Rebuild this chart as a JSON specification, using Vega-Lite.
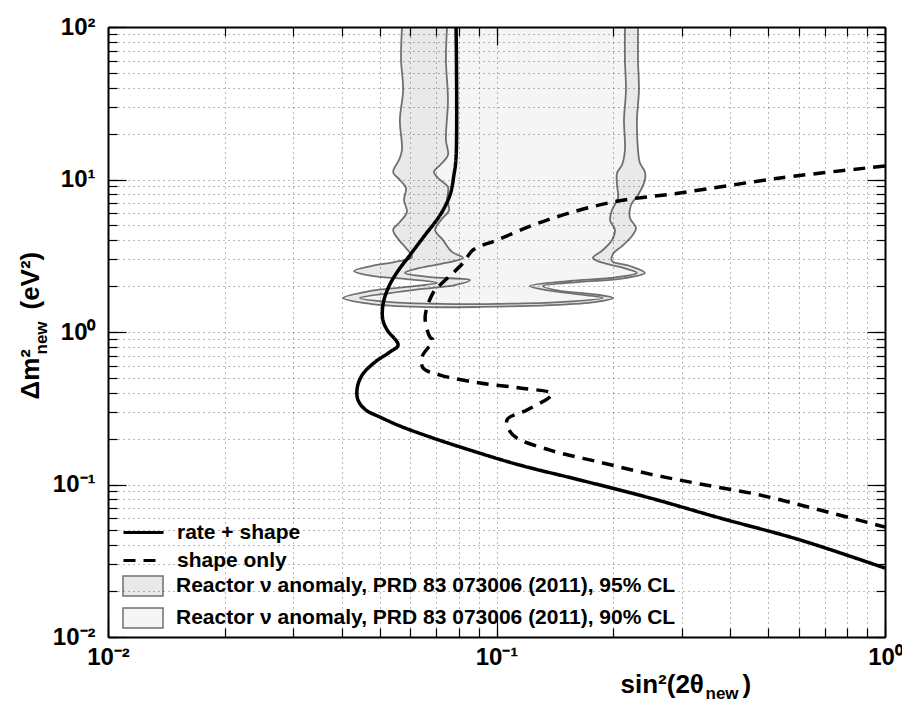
{
  "$schema": "https://vega.github.io/schema/vega-lite/v6.json",
  "width": 777,
  "height": 610,
  "autosize": {"type": "none"},
  "padding": {"left": 108, "top": 27, "right": 17, "bottom": 64},
  "background": "white",
  "config": {"view": {"stroke": null}, "font": "Liberation Sans"},
  "datasets": {
    "cl95": [
      {"i":0,"x":0.0571,"y":100},{"i":1,"x":0.0568,"y":60.76},{"i":2,"x":0.0575,"y":38.63},{"i":3,"x":0.0564,"y":24.56},
      {"i":4,"x":0.0571,"y":15.61},{"i":5,"x":0.0561,"y":13.43},{"i":6,"x":0.0542,"y":11.20},{"i":7,"x":0.0564,"y":9.93},
      {"i":8,"x":0.0585,"y":8.80},{"i":9,"x":0.0578,"y":7.34},{"i":10,"x":0.0588,"y":6.12},{"i":11,"x":0.0564,"y":5.26},
      {"i":12,"x":0.0542,"y":4.67},{"i":13,"x":0.0561,"y":4.01},{"i":14,"x":0.0585,"y":3.55},{"i":15,"x":0.0606,"y":3.10},
      {"i":16,"x":0.0548,"y":2.88},{"i":17,"x":0.0478,"y":2.71},{"i":18,"x":0.0430,"y":2.51},{"i":19,"x":0.0478,"y":2.33},
      {"i":20,"x":0.0581,"y":2.23},{"i":21,"x":0.0703,"y":2.10},{"i":22,"x":0.0581,"y":1.97},{"i":23,"x":0.0473,"y":1.86},
      {"i":24,"x":0.0403,"y":1.67},{"i":25,"x":0.0473,"y":1.53},{"i":26,"x":0.0635,"y":1.46},{"i":27,"x":0.0907,"y":1.46},
      {"i":28,"x":0.1373,"y":1.50},{"i":29,"x":0.1792,"y":1.57},{"i":30,"x":0.1995,"y":1.67},{"i":31,"x":0.1740,"y":1.78},
      {"i":32,"x":0.1457,"y":1.86},{"i":33,"x":0.1317,"y":2.00},{"i":34,"x":0.1640,"y":2.13},{"i":35,"x":0.2079,"y":2.23},
      {"i":36,"x":0.2410,"y":2.44},{"i":37,"x":0.2206,"y":2.71},{"i":38,"x":0.1983,"y":2.92},{"i":39,"x":0.1995,"y":3.25},
      {"i":40,"x":0.2104,"y":3.66},{"i":41,"x":0.2232,"y":4.26},{"i":42,"x":0.2286,"y":4.81},{"i":43,"x":0.2206,"y":5.59},
      {"i":44,"x":0.2219,"y":6.81},{"i":45,"x":0.2313,"y":7.91},{"i":46,"x":0.2410,"y":9.93},{"i":47,"x":0.2410,"y":11.20},
      {"i":48,"x":0.2340,"y":12.83},{"i":49,"x":0.2313,"y":15.61},{"i":50,"x":0.2299,"y":24.56},{"i":51,"x":0.2326,"y":38.63},
      {"i":52,"x":0.2313,"y":60.76},{"i":53,"x":0.2313,"y":100}
    ],
    "cl90": [
      {"i":0,"x":0.0746,"y":100},{"i":1,"x":0.0741,"y":60.76},{"i":2,"x":0.0750,"y":33.22},{"i":3,"x":0.0741,"y":18.16},
      {"i":4,"x":0.0750,"y":14.48},{"i":5,"x":0.0716,"y":12.45},{"i":6,"x":0.0690,"y":11.20},{"i":7,"x":0.0716,"y":9.93},
      {"i":8,"x":0.0750,"y":8.93},{"i":9,"x":0.0746,"y":7.34},{"i":10,"x":0.0755,"y":6.31},{"i":11,"x":0.0720,"y":5.42},
      {"i":12,"x":0.0695,"y":4.67},{"i":13,"x":0.0728,"y":4.01},{"i":14,"x":0.0768,"y":3.35},{"i":15,"x":0.0820,"y":3.06},
      {"i":16,"x":0.0716,"y":2.79},{"i":17,"x":0.0635,"y":2.63},{"i":18,"x":0.0581,"y":2.44},{"i":19,"x":0.0674,"y":2.29},
      {"i":20,"x":0.0855,"y":2.19},{"i":21,"x":0.0782,"y":2.03},{"i":22,"x":0.0635,"y":1.91},{"i":23,"x":0.0532,"y":1.80},
      {"i":24,"x":0.0445,"y":1.67},{"i":25,"x":0.0532,"y":1.57},{"i":26,"x":0.0716,"y":1.53},{"i":27,"x":0.1021,"y":1.53},
      {"i":28,"x":0.1457,"y":1.57},{"i":29,"x":0.1879,"y":1.67},{"i":30,"x":0.1592,"y":1.78},{"i":31,"x":0.1333,"y":1.89},
      {"i":32,"x":0.1220,"y":2.00},{"i":33,"x":0.1546,"y":2.16},{"i":34,"x":0.1960,"y":2.26},{"i":35,"x":0.2299,"y":2.44},
      {"i":36,"x":0.2079,"y":2.67},{"i":37,"x":0.1846,"y":2.88},{"i":38,"x":0.1771,"y":3.06},{"i":39,"x":0.1879,"y":3.45},
      {"i":40,"x":0.1983,"y":4.01},{"i":41,"x":0.2018,"y":4.67},{"i":42,"x":0.1960,"y":5.42},{"i":43,"x":0.1983,"y":6.31},
      {"i":44,"x":0.2055,"y":7.56},{"i":45,"x":0.2043,"y":9.20},{"i":46,"x":0.2043,"y":11.03},{"i":47,"x":0.2104,"y":12.45},
      {"i":48,"x":0.2141,"y":15.61},{"i":49,"x":0.2129,"y":24.56},{"i":50,"x":0.2154,"y":38.63},{"i":51,"x":0.2141,"y":60.76},
      {"i":52,"x":0.2141,"y":100}
    ],
    "rs": [
      {"i":0,"x":0.0787,"y":100},{"i":1,"x":0.0787,"y":14.05},{"i":2,"x":0.0777,"y":10.70},{"i":3,"x":0.0759,"y":7.91},
      {"i":4,"x":0.0716,"y":5.85},{"i":5,"x":0.0655,"y":4.33},{"i":6,"x":0.0599,"y":3.20},{"i":7,"x":0.0555,"y":2.47},
      {"i":8,"x":0.0526,"y":1.94},{"i":9,"x":0.0510,"y":1.50},{"i":10,"x":0.0510,"y":1.199},{"i":11,"x":0.0523,"y":1.031},
      {"i":12,"x":0.0558,"y":0.822},{"i":13,"x":0.0532,"y":0.740},{"i":14,"x":0.0487,"y":0.636},{"i":15,"x":0.0451,"y":0.522},
      {"i":16,"x":0.0438,"y":0.429},{"i":17,"x":0.0440,"y":0.358},{"i":18,"x":0.0461,"y":0.308},{"i":19,"x":0.0501,"y":0.277},
      {"i":20,"x":0.0564,"y":0.242},{"i":21,"x":0.0674,"y":0.205},{"i":22,"x":0.0855,"y":0.168},{"i":23,"x":0.1149,"y":0.134},
      {"i":24,"x":0.1640,"y":0.107},{"i":25,"x":0.2483,"y":0.0816},{"i":26,"x":0.376,"y":0.0603},{"i":27,"x":0.6042,"y":0.0433},
      {"i":28,"x":1.0,"y":0.0283}
    ],
    "so": [
      {"i":0,"x":1.0,"y":12.26},{"i":1,"x":0.5366,"y":10.23},{"i":2,"x":0.2967,"y":8.16},{"i":3,"x":0.1995,"y":7.12},
      {"i":4,"x":0.1349,"y":5.42},{"i":5,"x":0.1003,"y":4.01},{"i":6,"x":0.0870,"y":3.45},{"i":7,"x":0.0820,"y":2.83},
      {"i":8,"x":0.0707,"y":1.97},{"i":9,"x":0.0686,"y":1.80},{"i":10,"x":0.0655,"y":1.254},{"i":11,"x":0.0674,"y":0.927},
      {"i":12,"x":0.0686,"y":0.886},{"i":13,"x":0.0643,"y":0.686},{"i":14,"x":0.0647,"y":0.581},{"i":15,"x":0.0716,"y":0.522},
      {"i":16,"x":0.0907,"y":0.463},{"i":17,"x":0.1149,"y":0.429},{"i":18,"x":0.1389,"y":0.392},{"i":19,"x":0.1198,"y":0.308},
      {"i":20,"x":0.1064,"y":0.265},{"i":21,"x":0.1103,"y":0.211},{"i":22,"x":0.1373,"y":0.168},{"i":23,"x":0.1846,"y":0.140},
      {"i":24,"x":0.2483,"y":0.117},{"i":25,"x":0.3342,"y":0.1008},{"i":26,"x":0.477,"y":0.0853},{"i":27,"x":0.680,"y":0.0680},
      {"i":28,"x":1.0,"y":0.0526}
    ]
  },
  "resolve": {"axis": {"x": "independent", "y": "independent"}},
  "layer": [
    {
      "data": {"name": "cl95"},
      "mark": {"type": "line", "filled": true, "stroke": "#707070", "strokeWidth": 1.8, "clip": true, "interpolate": "catmull-rom"},
      "encoding": {
        "x": {"field": "x", "type": "quantitative",
          "scale": {"type": "log", "domain": [0.01, 1], "nice": false},
          "axis": {"orient": "bottom", "zindex": 1, "values": [0.01, 0.1, 1],
            "labelExpr": "datum.value==0.01?'10⁻²':datum.value==0.1?'10⁻¹':'10⁰'",
            "labelFont": "Liberation Sans", "labelFontWeight": "bold", "labelFontSize": 24, "labelColor": "#000",
            "labelPadding": 26, "labelFlush": false, "labelOverlap": false, "labelBound": false,
            "tickSize": -18, "tickColor": "#000", "tickWidth": 1.2,
            "domain": true, "domainColor": "#000", "domainWidth": 2, "grid": false,
            "title": "sin²(2θ", "titleFont": "Liberation Sans", "titleFontWeight": "bold", "titleFontSize": 26,
            "titleColor": "#000", "titleAlign": "left", "titleBaseline": "alphabetic", "titleX": 512, "titleY": 55}
        },
        "y": {"field": "y", "type": "quantitative",
          "scale": {"type": "log", "domain": [0.01, 100], "nice": false},
          "axis": {"orient": "left", "zindex": 1, "values": [0.01, 0.1, 1, 10, 100],
            "labelExpr": "datum.value==0.01?'10⁻²':datum.value==0.1?'10⁻¹':datum.value==1?'10⁰':datum.value==10?'10¹':'10²'",
            "labelFont": "Liberation Sans", "labelFontWeight": "bold", "labelFontSize": 24, "labelColor": "#000",
            "labelPadding": 31, "labelFlush": false, "labelOverlap": false, "labelBound": false,
            "tickSize": -18, "tickColor": "#000", "tickWidth": 1.2,
            "domain": true, "domainColor": "#000", "domainWidth": 2, "grid": false,
            "title": "Δm²", "titleFont": "Liberation Sans", "titleFontWeight": "bold", "titleFontSize": 26,
            "titleColor": "#000", "titleAlign": "left", "titleBaseline": "alphabetic", "titleAngle": -90, "titleX": -70, "titleY": 372}
        },
        "order": {"field": "i"},
        "fill": {"datum": "Reactor ν anomaly, PRD 83 073006 (2011), 95% CL",
          "scale": {"domain": ["Reactor ν anomaly, PRD 83 073006 (2011), 95% CL", "Reactor ν anomaly, PRD 83 073006 (2011), 90% CL"],
                    "range": ["#e9e9e9", "#f5f5f5"]},
          "legend": {"orient": "none", "legendX": 24, "legendY": 548, "title": null, "padding": 0,
            "labelFont": "Liberation Sans", "labelFontWeight": "bold", "labelFontSize": 21, "labelColor": "#000",
            "labelLimit": 1000, "symbolType": "M-2,-1H2V1H-2Z", "symbolSize": 400,
            "symbolStrokeColor": "#707070", "symbolStrokeWidth": 1.5, "rowPadding": 6, "labelOffset": 22}
        }
      }
    },
    {
      "data": {"name": "cl90"},
      "mark": {"type": "line", "filled": true, "stroke": "#707070", "strokeWidth": 1.8, "clip": true, "interpolate": "catmull-rom"},
      "encoding": {
        "x": {"field": "x", "type": "quantitative",
          "axis": {"orient": "top", "zindex": 1, "values": [0.01, 0.1, 1],
            "labels": false, "grid": false,
            "title": ")", "titleFont": "Liberation Sans", "titleFontWeight": "bold", "titleFontSize": 26, "titleColor": "#000",
            "titleAlign": "left", "titleBaseline": "alphabetic", "titleAngle": 0, "titleX": 634, "titleY": 665,
            "tickSize": -18, "tickColor": "#000", "tickWidth": 1.2, "domain": true, "domainColor": "#000", "domainWidth": 2}
        },
        "y": {"field": "y", "type": "quantitative",
          "axis": {"orient": "right", "zindex": 1, "values": [0.01, 0.1, 1, 10, 100],
            "labels": false, "grid": false,
            "title": "(eV²)", "titleFont": "Liberation Sans", "titleFontWeight": "bold", "titleFontSize": 26, "titleColor": "#000",
            "titleAlign": "left", "titleBaseline": "alphabetic", "titleAngle": -90, "titleX": -847, "titleY": 282,
            "tickSize": -18, "tickColor": "#000", "tickWidth": 1.2, "domain": true, "domainColor": "#000", "domainWidth": 2}
        },
        "order": {"field": "i"},
        "fill": {"datum": "Reactor ν anomaly, PRD 83 073006 (2011), 90% CL"}
      }
    },
    {
      "data": {"name": "rs"},
      "mark": {"type": "line", "color": "#000", "strokeWidth": 3.5, "clip": true, "interpolate": "catmull-rom"},
      "encoding": {
        "x": {"field": "x", "type": "quantitative",
          "axis": {"orient": "bottom", "zindex": 1,
            "values": [0.01,0.02,0.03,0.04,0.05,0.06,0.07,0.08,0.09,0.1,0.2,0.3,0.4,0.5,0.6,0.7,0.8,0.9,1],
            "labels": false, "domain": false, "tickSize": -9, "tickColor": "#000", "tickWidth": 1.2,
            "grid": true, "gridColor": "#000", "gridDash": [1, 4], "gridWidth": 1, "gridOpacity": 0.55,
            "title": "new", "titleFont": "Liberation Sans", "titleFontWeight": "bold", "titleFontSize": 17, "titleColor": "#000",
            "titleAlign": "left", "titleBaseline": "alphabetic", "titleX": 597, "titleY": 61}
        },
        "y": {"field": "y", "type": "quantitative",
          "axis": {"orient": "left", "zindex": 1,
            "values": [0.01,0.02,0.03,0.04,0.05,0.06,0.07,0.08,0.09,0.1,0.2,0.3,0.4,0.5,0.6,0.7,0.8,0.9,1,2,3,4,5,6,7,8,9,10,20,30,40,50,60,70,80,90,100],
            "labels": false, "domain": false, "tickSize": -9, "tickColor": "#000", "tickWidth": 1.2,
            "grid": true, "gridColor": "#000", "gridDash": [1, 4], "gridWidth": 1, "gridOpacity": 0.55,
            "title": "new", "titleFont": "Liberation Sans", "titleFontWeight": "bold", "titleFontSize": 17, "titleColor": "#000",
            "titleAlign": "left", "titleBaseline": "alphabetic", "titleAngle": -90, "titleX": -62, "titleY": 327}
        },
        "order": {"field": "i"},
        "strokeDash": {"datum": "rate + shape",
          "scale": {"domain": ["rate + shape", "shape only"], "range": [[1, 0], [12, 8]]},
          "legend": {"orient": "none", "legendX": 24, "legendY": 494, "title": null, "padding": 0,
            "labelFont": "Liberation Sans", "labelFontWeight": "bold", "labelFontSize": 21, "labelColor": "#000",
            "labelLimit": 1000, "symbolType": "M-2,0H2", "symbolSize": 400,
            "symbolStrokeColor": "#000", "symbolStrokeWidth": 3, "rowPadding": 6, "labelOffset": 22}
        }
      }
    },
    {
      "data": {"name": "so"},
      "mark": {"type": "line", "color": "#000", "strokeWidth": 3.5, "clip": true, "interpolate": "catmull-rom"},
      "encoding": {
        "x": {"field": "x", "type": "quantitative",
          "axis": {"orient": "top", "zindex": 1,
            "values": [0.01,0.02,0.03,0.04,0.05,0.06,0.07,0.08,0.09,0.1,0.2,0.3,0.4,0.5,0.6,0.7,0.8,0.9,1],
            "labels": false, "domain": false, "grid": false, "title": null,
            "tickSize": -9, "tickColor": "#000", "tickWidth": 1.2}
        },
        "y": {"field": "y", "type": "quantitative",
          "axis": {"orient": "right", "zindex": 1,
            "values": [0.01,0.02,0.03,0.04,0.05,0.06,0.07,0.08,0.09,0.1,0.2,0.3,0.4,0.5,0.6,0.7,0.8,0.9,1,2,3,4,5,6,7,8,9,10,20,30,40,50,60,70,80,90,100],
            "labels": false, "domain": false, "grid": false, "title": null,
            "tickSize": -9, "tickColor": "#000", "tickWidth": 1.2}
        },
        "order": {"field": "i"},
        "strokeDash": {"datum": "shape only"}
      }
    }
  ]
}
